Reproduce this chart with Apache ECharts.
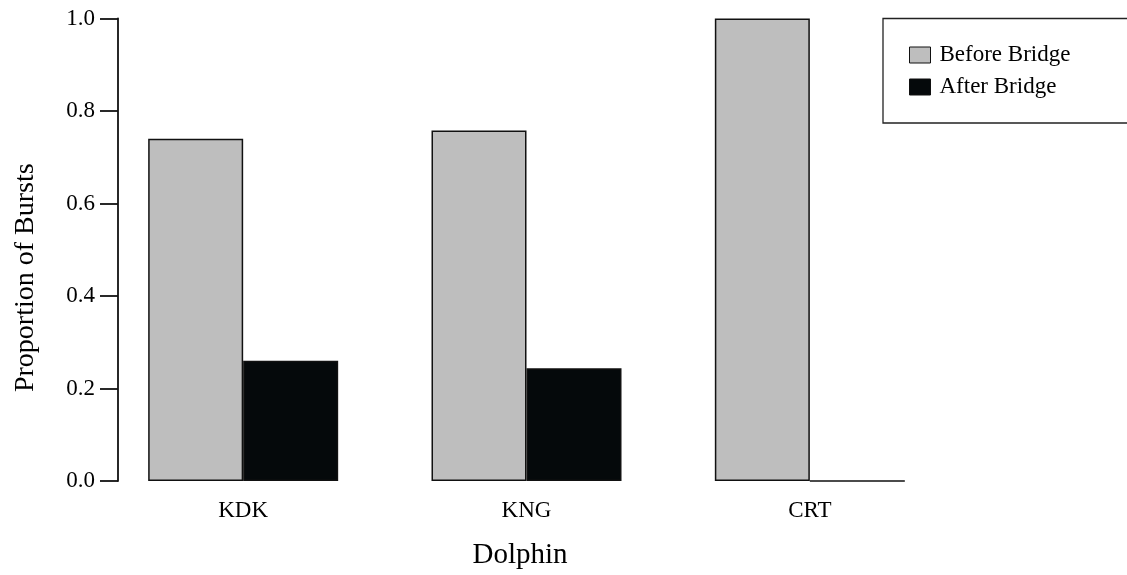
<!DOCTYPE html>
<html>
<head>
<meta charset="utf-8">
<script src="https://cdn.jsdelivr.net/npm/echarts@6/dist/echarts.min.js"></script>
<style>
html,body{margin:0;padding:0;background:#fff;}
#chart{width:1127px;height:575px;}
</style>
</head>
<body>
<div id="chart"></div>
<script>
const categories = ['KDK', 'KNG', 'CRT'];
const beforeBridge = [0.740, 0.758, 1.0];
const afterBridge = [0.260, 0.244, 0];
const yTicks = [0, 0.2, 0.4, 0.6, 0.8, 1.0];

const FONT = '"Liberation Serif", "DejaVu Serif", serif';
const chart = echarts.init(document.getElementById('chart'), null, {renderer: 'canvas'});

chart.setOption({
  animation: false,
  backgroundColor: '#ffffff',
  grid: {left: 101.5, top: 18.5, width: 850, height: 465, containLabel: false},
  legend: {
    orient: 'vertical',
    left: 883,
    top: 18.5,
    padding: [25, 220, 24.5, 26],
    borderColor: '#222',
    borderWidth: 1.3,
    borderRadius: 0,
    icon: 'rect',
    itemWidth: 21,
    itemHeight: 16,
    itemGap: 9,
    itemStyle: {borderColor: '#111', borderWidth: 1},
    textStyle: {fontFamily: FONT, fontSize: 23, color: '#000', padding: [0, 0, 0, 4]},
    data: ['Before Bridge', 'After Bridge']
  },
  xAxis: {
    type: 'category',
    data: categories,
    axisLine: {show: false},
    axisTick: {show: false},
    splitLine: {show: false},
    axisLabel: {fontFamily: FONT, fontSize: 23, color: '#000', margin: 18},
    name: 'Dolphin',
    nameLocation: 'middle',
    nameGap: 60,
    nameTextStyle: {fontFamily: FONT, fontSize: 29, color: '#000', padding: [0, 13, 0, 0]}
  },
  yAxis: {
    type: 'value',
    min: 0,
    max: 1,
    interval: 0.2,
    offset: -16.5,
    axisLine: {show: true, lineStyle: {color: '#111', width: 1.8}},
    axisTick: {show: true, inside: false, length: 18, lineStyle: {color: '#111', width: 1.8}},
    splitLine: {show: false},
    axisLabel: {
      fontFamily: FONT, fontSize: 23, color: '#000', margin: 23,
      formatter: v => (yTicks.some(t => Math.abs(t - v) < 1e-9) ? v.toFixed(1) : '')
    },
    name: 'Proportion of Bursts',
    nameLocation: 'middle',
    nameRotate: 90,
    nameGap: 78,
    nameTextStyle: {fontFamily: FONT, fontSize: 28, color: '#000', padding: [0, 56, 0, 0]}
  },
  series: [
    {
      name: 'Before Bridge',
      type: 'bar',
      data: beforeBridge,
      barWidth: 95,
      barGap: '0%',
      itemStyle: {color: '#bebebe', borderColor: '#111', borderWidth: 1.5}
    },
    {
      name: 'After Bridge',
      type: 'bar',
      data: afterBridge,
      barWidth: 95,
      barGap: '0%',
      itemStyle: {color: '#05090b', borderColor: '#111', borderWidth: 1.5}
    }
  ]
});
</script>
</body>
</html>
